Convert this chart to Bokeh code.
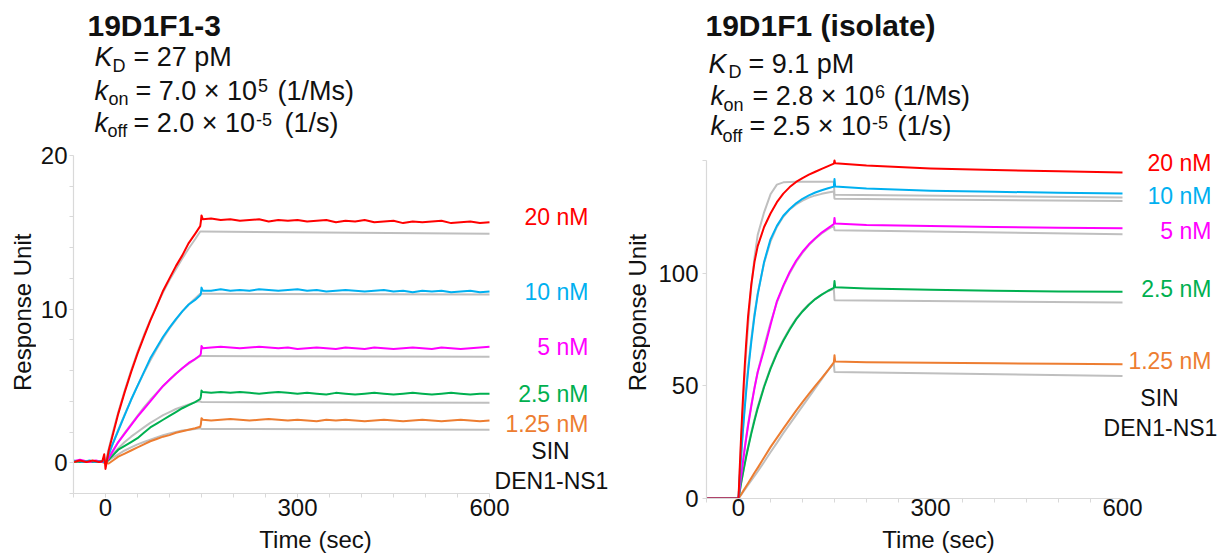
from bokeh.plotting import figure
from bokeh.models import Range1d, FixedTicker, Label
from bokeh.layouts import row, column
from bokeh.embed import file_html
from bokeh.resources import INLINE

FONT = "Liberation Sans"

concentrations = ["20 nM", "10 nM", "5 nM", "2.5 nM", "1.25 nM"]
colors = ["#FF0000", "#00B0F0", "#FF00FF", "#00B050", "#ED7D31"]
fit_color = "#BFBFBF"

# ---------------- Left panel: 19D1F1-3 ----------------
L_t_base = [-50, -45, -40, -35, -30, -25, -20, -15, -10, -5, -2]
L_t_assoc = [0, 5, 10, 20, 30, 40, 50, 60, 70, 80, 90, 100, 110, 120, 130, 140, 148]
L_t_jump = [149, 150, 152]
L_t_diss = [165, 180, 195, 210, 225, 240, 255, 270, 285, 300, 315, 330, 345, 360, 375,
            390, 405, 420, 435, 450, 465, 480, 495, 510, 525, 540, 555, 570, 585, 600]
L_t_fit_diss = [150, 600]

L_base_20 = [0.05, 0.1, 0.15, 0.1, 0.05, 0.1, 0.15, 0.1, 0.05, 0.1, 0.55]
L_base_10 = [0.15, 0.1, 0.1, 0.05, 0.1, 0.15, 0.1, 0.05, 0.1, 0.1, 0.05]
L_base_5 = [0.1, 0.15, 0.2, 0.15, 0.1, 0.05, 0.1, 0.15, 0.1, 0.05, 0.1]
L_base_2p5 = [0.05, 0.1, 0.05, 0.1, 0.05, 0.1, 0.05, 0.1, 0.05, 0.1, 0.05]
L_base_1p25 = [0.1, 0.05, 0.1, 0.05, 0.1, 0.05, 0.1, 0.05, 0.1, 0.05, 0.0]

L_assoc_20 = [-0.4, 0.8, 1.6, 3.2, 4.6, 5.9, 7.1, 8.2, 9.25, 10.2, 11.2, 12.0, 12.8, 13.5, 14.3, 14.9, 15.4]
L_assoc_10 = [0.0, 0.55, 1.1, 2.1, 3.1, 4.1, 5.0, 5.9, 6.8, 7.5, 8.2, 8.8, 9.35, 9.85, 10.3, 10.6, 10.9]
L_assoc_5 = [0.0, 0.3, 0.65, 1.35, 1.9, 2.45, 3.0, 3.5, 4.0, 4.5, 5.0, 5.4, 5.8, 6.15, 6.5, 6.75, 7.0]
L_assoc_2p5 = [0.0, 0.2, 0.42, 0.85, 1.1, 1.35, 1.6, 1.95, 2.3, 2.55, 2.8, 3.05, 3.3, 3.55, 3.75, 3.95, 4.15]
L_assoc_1p25 = [0.0, -0.05, 0.1, 0.4, 0.6, 0.8, 1.0, 1.2, 1.4, 1.55, 1.7, 1.8, 1.95, 2.05, 2.15, 2.25, 2.35]

L_jump_20 = [15.7, 16.1, 15.85]
L_jump_10 = [11.0, 11.4, 11.2]
L_jump_5 = [7.1, 7.6, 7.45]
L_jump_2p5 = [4.3, 4.7, 4.6]
L_jump_1p25 = [2.5, 2.9, 2.8]

L_diss_20 = [15.9, 15.8, 15.85, 15.75, 15.8, 15.85, 15.7, 15.8, 15.75, 15.8, 15.7, 15.75, 15.8, 15.65, 15.75,
             15.7, 15.8, 15.65, 15.7, 15.75, 15.6, 15.7, 15.65, 15.7, 15.75, 15.6, 15.65, 15.7, 15.6, 15.65]
L_diss_10 = [11.2, 11.3, 11.2, 11.25, 11.2, 11.3, 11.25, 11.2, 11.25, 11.3, 11.2, 11.25, 11.15, 11.2, 11.25,
             11.2, 11.15, 11.2, 11.25, 11.15, 11.2, 11.1, 11.2, 11.15, 11.2, 11.1, 11.15, 11.2, 11.1, 11.15]
L_diss_5 = [7.5, 7.55, 7.5, 7.45, 7.5, 7.55, 7.5, 7.45, 7.5, 7.4, 7.45, 7.5, 7.45, 7.4, 7.5,
            7.45, 7.4, 7.5, 7.45, 7.4, 7.45, 7.5, 7.45, 7.4, 7.5, 7.45, 7.4, 7.45, 7.5, 7.55]
L_diss_2p5 = [4.55, 4.6, 4.55, 4.6, 4.55, 4.5, 4.55, 4.6, 4.55, 4.5, 4.55, 4.5, 4.45, 4.55, 4.5,
              4.45, 4.5, 4.55, 4.5, 4.45, 4.5, 4.55, 4.5, 4.45, 4.5, 4.55, 4.5, 4.45, 4.5, 4.5]
L_diss_1p25 = [2.75, 2.8, 2.85, 2.8, 2.75, 2.8, 2.85, 2.8, 2.75, 2.8, 2.75, 2.7, 2.8, 2.75, 2.8,
               2.75, 2.7, 2.75, 2.8, 2.75, 2.7, 2.75, 2.8, 2.75, 2.7, 2.75, 2.8, 2.75, 2.7, 2.75]

L_fit_assoc_20 = [0.0, 0.9, 1.75, 3.3, 4.7, 6.0, 7.2, 8.3, 9.3, 10.25, 11.1, 11.9, 12.6, 13.3, 13.95, 14.55, 15.05]
L_fit_assoc_10 = [0.0, 0.55, 1.1, 2.15, 3.15, 4.1, 5.0, 5.85, 6.65, 7.4, 8.1, 8.75, 9.3, 9.85, 10.3, 10.7, 11.0]
L_fit_assoc_5 = [0.0, 0.35, 0.7, 1.35, 1.95, 2.5, 3.05, 3.6, 4.1, 4.55, 5.0, 5.4, 5.8, 6.15, 6.45, 6.75, 6.95]
L_fit_assoc_2p5 = [0.0, 0.25, 0.5, 0.95, 1.35, 1.7, 2.0, 2.3, 2.6, 2.85, 3.1, 3.3, 3.5, 3.65, 3.8, 3.95, 4.0]
L_fit_assoc_1p25 = [0.0, 0.15, 0.3, 0.55, 0.8, 1.0, 1.2, 1.35, 1.5, 1.65, 1.8, 1.9, 2.0, 2.1, 2.15, 2.2, 2.25]
L_fit_diss_20 = [15.05, 14.9]
L_fit_diss_10 = [11.0, 10.95]
L_fit_diss_5 = [6.95, 6.9]
L_fit_diss_2p5 = [3.95, 3.9]
L_fit_diss_1p25 = [2.2, 2.15]

# ---------------- Right panel: 19D1F1 (isolate) ----------------
R_t_base = [-50, 0]
R_t_assoc = [0, 2, 4, 6, 8, 10, 12, 15, 20, 25, 30, 40, 50, 60, 70, 80, 90, 100, 110, 120, 130, 140, 149]
R_t_diss = [150, 151, 200, 300, 400, 500, 600]
R_t_fit_diss = [150, 600]

R_base = [0.0, 0.0]

R_assoc_20 = [0, 14, 27, 39, 50, 60, 69, 81, 95, 105, 112, 120.5, 126.5, 131.5, 135.3, 138.2, 140.5, 142.2, 143.7, 145, 146.3, 147.5, 148.6]
R_assoc_10 = [0, 9.5, 18.5, 26.5, 34, 41, 47.5, 56.5, 69.5, 81, 90.5, 105, 115, 121, 125.5, 128.5, 131, 133, 134.5, 135.8, 136.8, 137.7, 138.4]
R_assoc_5 = [0, 5, 9.6, 14, 18.5, 22.7, 26.7, 32.4, 41, 49, 56, 66, 77, 87.5, 94.5, 100.5, 105.5, 109.5, 112.8, 115.5, 118, 120, 121.8]
R_assoc_2p5 = [0, 3.3, 6.6, 9.7, 12.7, 15.6, 18.5, 22.5, 28.8, 34.6, 40, 49.5, 57.5, 64.3, 70, 75, 79.5, 83, 86, 88.5, 90.5, 92.2, 93.5]
R_assoc_1p25 = [0, 0.9, 1.8, 2.7, 3.6, 4.5, 5.4, 6.8, 9.1, 11.4, 13.6, 18.2, 22.8, 26.9, 31, 35, 39, 42.8, 46.4, 50, 53.4, 57, 60.4]

R_diss_20 = [150.0, 148.8, 147.8, 146.5, 145.8, 145.2, 144.7]
R_diss_10 = [141.8, 138.5, 137.6, 136.6, 136.1, 135.7, 135.4]
R_diss_5 = [124.5, 122.0, 121.4, 120.9, 120.5, 120.2, 119.9]
R_diss_2p5 = [96.5, 93.8, 93.2, 92.6, 92.2, 91.9, 91.7]
R_diss_1p25 = [63.6, 60.8, 60.5, 60.2, 60.0, 59.8, 59.6]

R_fit_assoc_20 = [0, 12, 24, 35, 46, 56, 65, 77, 94, 107, 117, 127, 135, 139.3, 140.3, 140.5, 140.6, 140.6, 140.6, 140.6, 140.6, 140.6, 140.6]
R_fit_assoc_10 = [0, 9.5, 18.5, 27, 35, 42, 49, 58, 71, 82, 91, 104.5, 114, 120.5, 125, 128.3, 130.5, 132.2, 133.5, 134.5, 135.2, 135.8, 136.2]
R_fit_assoc_5 = [0, 5.2, 10, 14.6, 19, 23.2, 27.2, 33, 41.5, 49.3, 56.3, 67.5, 78, 87, 94, 100, 105, 109, 112.5, 115.3, 117.6, 119.5, 121]
R_fit_assoc_2p5 = [0, 3.4, 6.8, 10, 13, 16, 19, 23, 29.5, 35.3, 40.7, 50, 58, 64.8, 70.5, 75.5, 79.8, 83.3, 86.2, 88.6, 90.5, 92, 93]
R_fit_assoc_1p25 = [0, 0.8, 1.6, 2.4, 3.2, 4, 4.8, 6, 8, 10, 12, 16.2, 20.5, 24.7, 29, 33, 37, 41, 45, 49, 53, 57, 60]
R_fit_diss_20 = [134.8, 133.6]
R_fit_diss_10 = [133.0, 132.0]
R_fit_diss_5 = [119.1, 117.3]
R_fit_diss_2p5 = [88.0, 87.0]
R_fit_diss_1p25 = [56.1, 54.4]

x_major_ticks = [0, 300, 600]
x_minor_ticks = [-50, 50, 100, 150, 200, 250, 350, 400, 450, 500, 550]
L_y_major_ticks = [0, 10, 20]
L_y_minor_ticks = [-2, 2, 4, 6, 8, 12, 14, 16, 18]
R_y_major_ticks = [0, 50, 100, 150]

# ---------------- geometry (page pixels) ----------------
LG = dict(px_a=73, x_a=-50, sx=416 / 650, py_a=493, y_a=-2, sy=338 / 22)
RG = dict(px_a=706, x_a=-50, sx=416 / 650, py_a=498, y_a=0, sy=338 / 150)

AXIS_GREY = "#D9D9D9"
TXT = "#111111"
ROT_SHIFT = 21  # compensation for rotated label anchoring
PLOT_H = 525


def add_text(p, g, px, py, text, size, color=TXT, style="normal",
             align="left", baseline="alphabetic", angle=0.0):
    # positions are given as alphabetic baselines (or centres); draw centred vertically
    if baseline == "alphabetic":
        py = py - 0.35 * size
    x = g["x_a"] + (px - g["px_a"]) / g["sx"]
    y = g["y_a"] + (g["py_a"] - py) / g["sy"]
    p.add_layout(Label(x=x, y=y, text=text, text_font=FONT, text_font_size=f"{size}px",
                       text_color=color, text_font_style=style, text_align=align,
                       text_baseline="middle", angle=angle))


def blank_fig(width, height):
    p = figure(width=width, height=height, x_range=Range1d(0, width), y_range=Range1d(0, height),
               output_backend="svg", toolbar_location=None, x_axis_type=None, y_axis_type=None,
               title=None,
               min_border_left=0, min_border_right=0, min_border_top=0, min_border_bottom=0)
    p.outline_line_color = None
    p.grid.visible = False
    p.background_fill_color = "white"
    p.border_fill_color = "white"
    return p


def plot_fig(left, width, height, g, x_bounds, y_bounds):
    frame_left = g["px_a"]
    frame_bottom = g["py_a"]
    x_end = g["x_a"] + (left + width - frame_left) / g["sx"]
    y_end = g["y_a"] + frame_bottom / g["sy"]
    p = figure(width=width, height=height,
               x_range=Range1d(g["x_a"], x_end), y_range=Range1d(g["y_a"], y_end),
               output_backend="svg", toolbar_location=None, title=None,
               min_border_left=frame_left - left, min_border_right=0,
               min_border_top=0, min_border_bottom=height - frame_bottom)
    p.outline_line_color = None
    p.grid.visible = False
    p.background_fill_color = "white"
    p.border_fill_color = "white"
    for ax in (p.xaxis[0], p.yaxis[0]):
        ax.axis_line_color = AXIS_GREY
        ax.axis_line_width = 1.2
        ax.major_tick_line_color = AXIS_GREY
        ax.minor_tick_line_color = AXIS_GREY
        ax.major_tick_out = 4
        ax.major_tick_in = 0
        ax.minor_tick_out = 4
        ax.minor_tick_in = 0
        ax.major_label_text_font = FONT
        ax.major_label_text_font_size = "24px"
        ax.major_label_text_color = TXT
    p.xaxis[0].bounds = x_bounds
    p.yaxis[0].bounds = y_bounds
    return p


# ---------------- Left panel ----------------
pL = plot_fig(36, 584, PLOT_H, LG, (-50, 600), (-2, 20))
pL.xaxis[0].ticker = FixedTicker(ticks=x_major_ticks, minor_ticks=x_minor_ticks)
pL.yaxis[0].ticker = FixedTicker(ticks=L_y_major_ticks, minor_ticks=L_y_minor_ticks)
pL.yaxis[0].major_label_standoff = 2
pL.xaxis[0].major_label_standoff = 1

L_fit_assoc = [L_fit_assoc_20, L_fit_assoc_10, L_fit_assoc_5, L_fit_assoc_2p5, L_fit_assoc_1p25]
L_fit_diss = [L_fit_diss_20, L_fit_diss_10, L_fit_diss_5, L_fit_diss_2p5, L_fit_diss_1p25]
L_base = [L_base_20, L_base_10, L_base_5, L_base_2p5, L_base_1p25]
L_assoc = [L_assoc_20, L_assoc_10, L_assoc_5, L_assoc_2p5, L_assoc_1p25]
L_jump = [L_jump_20, L_jump_10, L_jump_5, L_jump_2p5, L_jump_1p25]
L_diss = [L_diss_20, L_diss_10, L_diss_5, L_diss_2p5, L_diss_1p25]

for fa, fd in zip(L_fit_assoc, L_fit_diss):
    pL.line(L_t_assoc + L_t_fit_diss, fa + fd, line_color=fit_color, line_width=2)
for i in reversed(range(5)):
    t = L_t_base + L_t_assoc + L_t_jump + L_t_diss
    v = L_base[i] + L_assoc[i] + L_jump[i] + L_diss[i]
    pL.line(t, v, line_color=colors[i], line_width=2, line_join="round")

add_text(pL, LG, 87, 35, "19D1F1-3", 30, style="bold")
add_text(pL, LG, 94, 66, "K", 27, style="italic")
add_text(pL, LG, 112, 72, "D", 18)
add_text(pL, LG, 133, 66, "= 27 pM", 27)
add_text(pL, LG, 94, 100, "k", 27, style="italic")
add_text(pL, LG, 108, 105, "on", 18)
add_text(pL, LG, 135, 100, "= 7.0 \u00d7 10", 27)
add_text(pL, LG, 257.5, 91, "5", 18)
add_text(pL, LG, 277, 100, "(1/Ms)", 27)
add_text(pL, LG, 94, 132, "k", 27, style="italic")
add_text(pL, LG, 107, 137, "off", 18)
add_text(pL, LG, 133, 132, "= 2.0 \u00d7 10", 27)
add_text(pL, LG, 255.5, 125, "-5", 18)
add_text(pL, LG, 284, 132, "(1/s)", 27)

L_label_y = [216.7, 291.7, 346.7, 393.3, 423.3]
for i in range(5):
    add_text(pL, LG, 588, L_label_y[i], concentrations[i], 23, color=colors[i], align="right", baseline="middle")
add_text(pL, LG, 550, 450, "SIN", 23, align="center", baseline="middle")
add_text(pL, LG, 551, 480, "DEN1-NS1", 23, align="center", baseline="middle")

ylabL = blank_fig(36, PLOT_H)
add_text(ylabL, dict(px_a=0, x_a=0, sx=1, py_a=PLOT_H, y_a=0, sy=1), 22, 311 + ROT_SHIFT, "Response Unit", 24,
         align="center", baseline="middle", angle=1.5707963)
footL = blank_fig(620, 556 - PLOT_H)
add_text(footL, dict(px_a=0, x_a=0, sx=1, py_a=556, y_a=0, sy=1), 315, 539, "Time (sec)", 24,
         align="center", baseline="middle")

# ---------------- Right panel ----------------
pR = plot_fig(650, 574, PLOT_H, RG, (-50, 600), (0, 150))
pR.xaxis[0].ticker = FixedTicker(ticks=x_major_ticks, minor_ticks=x_minor_ticks)
pR.yaxis[0].ticker = FixedTicker(ticks=R_y_major_ticks)
pR.yaxis[0].major_label_overrides = {150: ""}
pR.yaxis[0].major_label_standoff = 4
pR.xaxis[0].major_label_standoff = -4

R_fit_assoc = [R_fit_assoc_20, R_fit_assoc_10, R_fit_assoc_5, R_fit_assoc_2p5, R_fit_assoc_1p25]
R_fit_diss = [R_fit_diss_20, R_fit_diss_10, R_fit_diss_5, R_fit_diss_2p5, R_fit_diss_1p25]
R_assoc = [R_assoc_20, R_assoc_10, R_assoc_5, R_assoc_2p5, R_assoc_1p25]
R_diss = [R_diss_20, R_diss_10, R_diss_5, R_diss_2p5, R_diss_1p25]

for fa, fd in zip(R_fit_assoc, R_fit_diss):
    pR.line(R_t_assoc + R_t_fit_diss, fa + fd, line_color=fit_color, line_width=2)
for i in reversed(range(5)):
    t = R_t_base + R_t_assoc + R_t_diss
    v = R_base + R_assoc[i] + R_diss[i]
    pR.line(t, v, line_color=colors[i], line_width=2, line_join="round")

add_text(pR, RG, 705, 35, "19D1F1 (isolate)", 30, style="bold")
add_text(pR, RG, 708, 73, "K", 27, style="italic")
add_text(pR, RG, 728, 78, "D", 18)
add_text(pR, RG, 748, 73, "= 9.1 pM", 27)
add_text(pR, RG, 710, 105, "k", 27, style="italic")
add_text(pR, RG, 723, 111, "on", 18)
add_text(pR, RG, 752, 105, "= 2.8 \u00d7 10", 27)
add_text(pR, RG, 874.5, 97, "6", 18)
add_text(pR, RG, 893, 105, "(1/Ms)", 27)
add_text(pR, RG, 710, 135, "k", 27, style="italic")
add_text(pR, RG, 722, 142, "off", 18)
add_text(pR, RG, 749, 135, "= 2.5 \u00d7 10", 27)
add_text(pR, RG, 871.5, 128, "-5", 18)
add_text(pR, RG, 897, 135, "(1/s)", 27)

R_label_y = [162.7, 195, 230, 288.3, 360]
for i in range(5):
    add_text(pR, RG, 1211, R_label_y[i], concentrations[i], 23, color=colors[i], align="right", baseline="middle")
add_text(pR, RG, 1159, 397, "SIN", 23, align="center", baseline="middle")
add_text(pR, RG, 1160, 427, "DEN1-NS1", 23, align="center", baseline="middle")

ylabR = blank_fig(30, PLOT_H)
add_text(ylabR, dict(px_a=620, x_a=0, sx=1, py_a=PLOT_H, y_a=0, sy=1), 637, 308 + ROT_SHIFT, "Response Unit", 24,
         align="center", baseline="middle", angle=1.5707963)
footR = blank_fig(604, 556 - PLOT_H)
add_text(footR, dict(px_a=620, x_a=0, sx=1, py_a=556, y_a=0, sy=1), 938, 539, "Time (sec)", 24,
         align="center", baseline="middle")

layout = row(column(row(ylabL, pL), footL), column(row(ylabR, pR), footR))
open("out.html", "w").write(file_html(layout, INLINE))
